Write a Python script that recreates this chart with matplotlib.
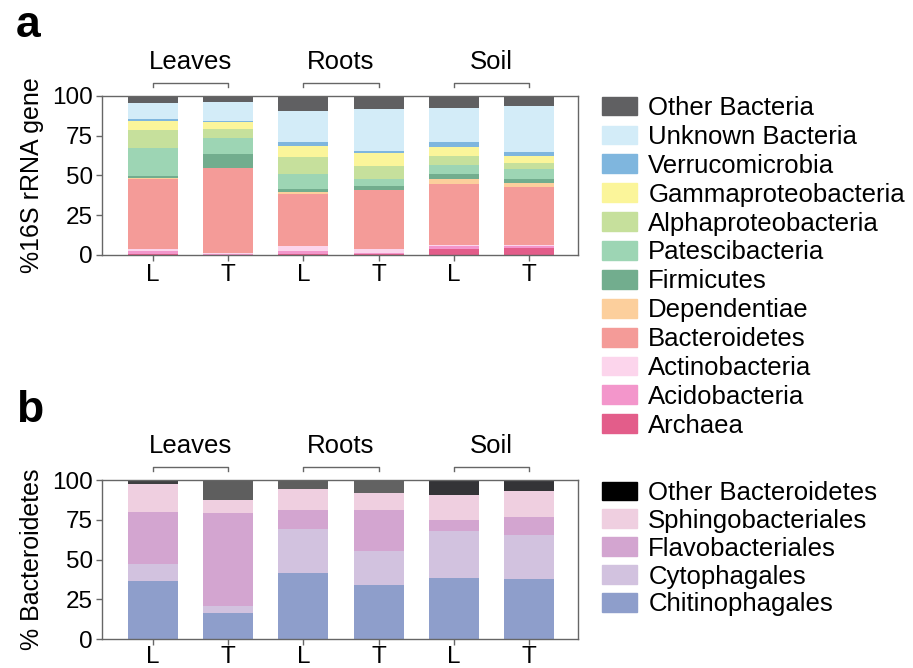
import numpy as np
import matplotlib.pyplot as plt
from matplotlib.patches import Patch

plt.rcParams['font.family'] = ['Liberation Sans', 'DejaVu Sans']

samples = ['L', 'T', 'L', 'T', 'L', 'T']
groups = ['Leaves', 'Roots', 'Soil']

# phylum-level composition (% 16S rRNA gene), stacked bottom -> top
phyla = ['Archaea', 'Acidobacteria', 'Actinobacteria', 'Bacteroidetes',
         'Dependentiae', 'Firmicutes', 'Patescibacteria', 'Alphaproteobacteria',
         'Gammaproteobacteria', 'Verrucomicrobia', 'Unknown Bacteria', 'Other Bacteria']
archaea = [0.3, 0.2, 0.5, 0.3, 3.8, 4.2]
acidobacteria = [2.0, 0.4, 2.2, 1.2, 1.7, 1.3]
actinobacteria = [1.2, 0.8, 3.1, 2.5, 0.9, 0.9]
bacteroidetes = [44.5, 53.4, 32.3, 36.7, 38.4, 36.6]
dependentiae = [0.5, 0.2, 1.3, 0.3, 3.2, 2.1]
firmicutes = [1.0, 8.5, 1.9, 2.4, 3.2, 2.9]
patescibacteria = [17.8, 10.1, 9.9, 4.4, 5.4, 5.9]
alphaproteo = [11.0, 5.6, 10.2, 8.4, 5.9, 3.8]
gammaproteo = [6.0, 4.4, 7.4, 7.7, 5.4, 4.8]
verrucomicrobia = [1.0, 0.9, 2.3, 1.7, 3.2, 2.1]
unknown_bact = [10.3, 11.9, 19.5, 26.0, 21.4, 29.1]
other_bact = [4.4, 3.6, 9.4, 8.4, 7.5, 6.3]
phyla_values = [archaea, acidobacteria, actinobacteria, bacteroidetes, dependentiae,
                firmicutes, patescibacteria, alphaproteo, gammaproteo,
                verrucomicrobia, unknown_bact, other_bact]
phyla_colors = ['#e35d8a', '#f396cb', '#fcd5ec', '#f49b98', '#fccf9c', '#72ad8e',
                '#9dd5b4', '#c6e09c', '#fbf59a', '#7fb6de', '#d3ecf8', '#606062']

# order-level composition within Bacteroidetes (%), stacked bottom -> top
orders = ['Chitinophagales', 'Cytophagales', 'Flavobacteriales',
          'Sphingobacteriales', 'Other Bacteroidetes']
chitinophagales = [36.7, 16.6, 41.3, 33.8, 38.6, 37.5]
cytophagales = [10.5, 4.4, 28.1, 21.6, 29.4, 27.9]
flavobacteriales = [32.9, 58.1, 11.7, 25.8, 6.9, 11.5]
sphingobacteriales = [17.2, 8.2, 13.4, 10.5, 15.5, 16.4]
other_bacteroidetes = [2.7, 12.7, 5.5, 8.3, 9.6, 6.7]
order_values = [chitinophagales, cytophagales, flavobacteriales,
                sphingobacteriales, other_bacteroidetes]
order_colors = ['#8e9ecb', '#d2c2df', '#d3a5d0', '#efcfe0', '#000000']
other_bar_colors = ['#3e3e40', '#5e5e5e', '#5e5e5e', '#626262', '#343437', '#343437']

fig = plt.figure(figsize=(9.13, 6.68), dpi=100)
ax_a = fig.add_axes([0.1117, 0.6183, 0.5214, 0.238])
ax_b = fig.add_axes([0.1117, 0.0434, 0.5214, 0.238])

x = np.arange(len(samples))
width = 0.665
spine_col = '#666666'


def stacked(ax, values, colors, bar_colors=None):
    bottom = np.zeros(len(samples))
    for i, (vals, col) in enumerate(zip(values, colors)):
        vals = np.array(vals)
        c = col
        if bar_colors is not None and i == len(values) - 1:
            c = bar_colors
        ax.bar(x, vals, width, bottom=bottom, color=c, linewidth=0)
        bottom += vals


def style(ax, ylabel, xpad=2):
    ax.set_xlim(-0.678, 5.652)
    ax.set_ylim(0, 100)
    ax.set_yticks([0, 25, 50, 75, 100])
    ax.set_xticks(x)
    ax.set_xticklabels(samples)
    ax.tick_params(axis='both', direction='out', length=4.5, width=1,
                   color=spine_col, labelsize=17.5, pad=2)
    ax.tick_params(axis='x', pad=xpad)
    for sp in ax.spines.values():
        sp.set_color(spine_col)
        sp.set_linewidth(1)
    ax.set_ylabel(ylabel, fontsize=18, labelpad=6)
    # brackets + group names above each L/T pair
    for g, name in enumerate(groups):
        x0, x1 = 2 * g, 2 * g + 1
        ax.plot([x0, x0, x1, x1], [105.7, 108.2, 108.2, 105.7], color=spine_col,
                lw=1, clip_on=False)
        ax.text((x0 + x1) / 2, 117, name, ha='center', va='baseline', fontsize=18.5)


stacked(ax_a, phyla_values, phyla_colors)
style(ax_a, '%16S rRNA gene')
stacked(ax_b, order_values, order_colors, other_bar_colors)
style(ax_b, '% Bacteroidetes', xpad=0.5)

leg_kw = dict(frameon=False, fontsize=18.5, handlelength=1.35, handleheight=0.75,
              handletextpad=0.45, borderaxespad=0, borderpad=0)
h_a = [Patch(color=c, label=l) for l, c in zip(phyla, phyla_colors)][::-1]
fig.legend(handles=h_a, loc='upper left', bbox_to_anchor=(602 / 913, 1 - 96 / 668),
           labelspacing=0.19, **leg_kw)
h_b = [Patch(color=c, label=l) for l, c in zip(orders, order_colors)][::-1]
fig.legend(handles=h_b, loc='upper left', bbox_to_anchor=(602 / 913, 1 - 481 / 668),
           labelspacing=0.15, **leg_kw)

fig.text(16 / 913, 1 - 37 / 668, 'a', fontsize=32, fontweight='bold', va='baseline')
fig.text(16 / 913, 1 - 422 / 668, 'b', fontsize=32, fontweight='bold', va='baseline')

fig.savefig('out.png', dpi=100)
